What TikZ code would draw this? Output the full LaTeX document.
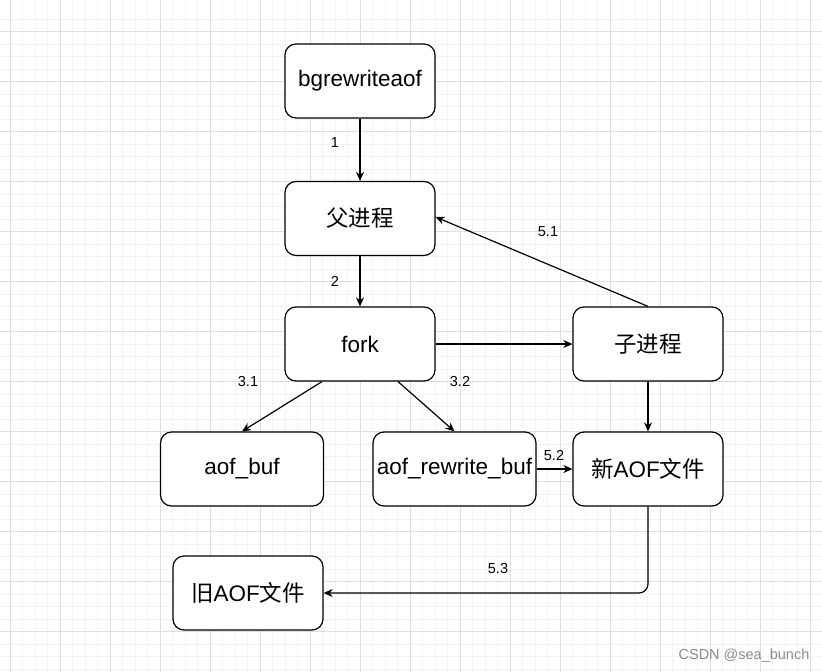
\documentclass[tikz,border=0pt]{standalone}
\usepackage{fontspec}
\setmainfont{Liberation Sans}
\newfontfamily\cjk{Noto Sans CJK SC}
\usetikzlibrary{arrows.meta,calc}

\definecolor{gridmajor}{HTML}{DEDEDE}
\definecolor{gridminor}{HTML}{F3F3F3}

\tikzset{
  box/.style={draw=black, line width=1.2pt, rounded corners=11pt, fill=white,
    minimum width=150pt, minimum height=74pt, inner sep=0pt,
    font=\fontsize{22.5}{26}\selectfont},
  wbox/.style={box, minimum width=163pt},
  link/.style={-{Stealth[length=9pt,width=8pt]}, line width=1.2pt},
  lab/.style={font=\fontsize{14.5}{17}\selectfont, inner sep=0pt}
}

\begin{document}
\begin{tikzpicture}[x=1pt,y=-1pt]
\useasboundingbox (0,0) rectangle (822,672);
\fill[white] (0,0) rectangle (822,672);

% grid
\foreach \i in {0,...,66} {
  \draw[gridminor, line width=0.8pt] (10+12.5*\i-12.5,0) -- (10+12.5*\i-12.5,672);
}
\foreach \j in {0,...,54} {
  \draw[gridminor, line width=0.8pt] (0,31.7+12.5*\j-12.5) -- (822,31.7+12.5*\j-12.5);
}
\foreach \i in {0,...,16} {
  \draw[gridmajor, line width=0.8pt] (10+50*\i,0) -- (10+50*\i,672);
}
\foreach \j in {-1,...,13} {
  \draw[gridmajor, line width=0.8pt] (0,31.7+50*\j) -- (822,31.7+50*\j);
}

% boxes
\node[box] (bg) at (360,81) {bgrewriteaof};
\node[box] (fu) at (360,218.5) {\cjk 父进程};
\node[box] (fork) at (360,344) {fork};
\node[box] (zi) at (648,344) {\cjk 子进程};
\node[wbox] (aofbuf) at (242,469) {aof\_buf};
\node[wbox] (rewrite) at (454.5,469) {aof\_rewrite\_buf};
\node[box] (xin) at (648,469) {{\cjk 新}AOF{\cjk 文件}};
\node[box] (old) at (248,593) {{\cjk 旧}AOF{\cjk 文件}};

% connectors
\draw[link] (bg.south) -- (fu.north);
\draw[link] (fu.south) -- (fork.north);
\draw[link] (fork.east) -- (zi.west);
\draw[link] (zi.north) -- ([yshift=1.5pt]fu.east);
\draw[link] (zi.south) -- (xin.north);
\draw[link] ([xshift=-38pt]fork.south) -- (aofbuf.north);
\draw[link] ([xshift=38pt]fork.south) -- (rewrite.north);
\draw[link] (rewrite.east) -- (xin.west);
\draw[link, rounded corners=9pt] (xin.south) |- (old.east);

% labels
\node[lab] (l1) at (335,143) {1};
\node[lab] (l2) at (335,281) {2};
\node[lab] (l31) at (248,382) {3.1};
\node[lab] (l32) at (460,382) {3.2};
\node[lab] (l51) at (548,232) {5.1};
\node[lab] (l52) at (554,456) {5.2};
\node[lab] (l53) at (498,569) {5.3};

\node[lab, text=black!45] (mark) at (744,656) {CSDN @sea\_bunch};
\end{tikzpicture}
\end{document}
